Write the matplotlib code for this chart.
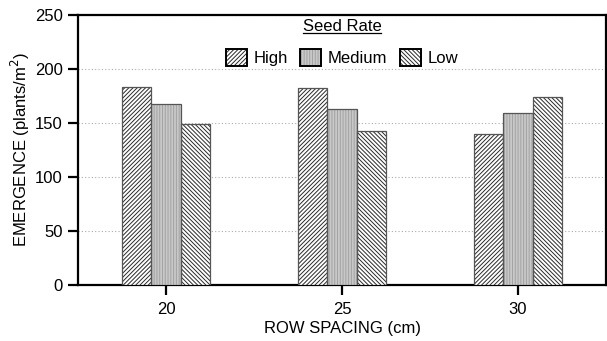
import matplotlib
matplotlib.use("Agg")
import matplotlib.pyplot as plt
from matplotlib.patches import Patch
from matplotlib.lines import Line2D
from matplotlib.legend_handler import HandlerTuple
import numpy as np

plt.rcParams['font.family'] = ['Liberation Sans', 'DejaVu Sans']
plt.rcParams['hatch.linewidth'] = 0.7

row_spacing = ["20", "25", "30"]
seed_rates = ["High", "Medium", "Low"]
high = [183, 182, 139.5]
medium = [168, 163, 159]
low = [149, 142.5, 174]

series = [high, medium, low]
hatches = ["////////", "||||||", "\\\\\\\\\\\\\\\\"]
faces = ["white", "#c8c8c8", "white"]
hatch_cols = ["#2a2a2a", "#a2a2a2", "#2a2a2a"]
FS = 12

fig = plt.figure(figsize=(6.07, 3.41), dpi=100)
ax = fig.add_axes([78 / 607, (341 - 285) / 341, (606 - 78) / 607, (285 - 15) / 341])

x = np.arange(len(row_spacing))
w = 0.5 / 3
for i, vals in enumerate(series):
    # hatched fill, then a crisp outline on top
    ax.bar(x + (i - 1) * w, vals, width=w, facecolor=faces[i], edgecolor=hatch_cols[i],
           hatch=hatches[i], linewidth=0, zorder=3)
    ax.bar(x + (i - 1) * w, vals, width=w, facecolor="none", edgecolor="#555555",
           linewidth=0.9, zorder=4)

ax.set_xlim(-0.5, 2.5)
ax.set_ylim(0, 250)
ax.set_yticks([0, 50, 100, 150, 200, 250])
ax.set_xticks(x)
ax.set_xticklabels(row_spacing)
ax.yaxis.grid(True, linestyle=(0, (1, 2)), color="#aaaaaa", linewidth=0.8, zorder=0)
for s in ax.spines.values():
    s.set_linewidth(1.6)
ax.tick_params(axis="both", direction="out", length=7, width=1.6, labelsize=FS, colors="black")
ax.tick_params(axis="y", pad=4)
ax.tick_params(axis="x", pad=5)
ax.set_xlabel("ROW SPACING (cm)", fontsize=FS, labelpad=3)
ax.set_ylabel("EMERGENCE (plants/m$^2$)", fontsize=FS, labelpad=2)

handles = [(Patch(facecolor=faces[i], edgecolor=hatch_cols[i], hatch=hatches[i], linewidth=0),
            Patch(facecolor="none", edgecolor="black", linewidth=1.4))
           for i in range(3)]
leg = ax.legend(handles, seed_rates, loc="center", bbox_to_anchor=(0.5, 0.844),
                ncol=3, frameon=False, fontsize=FS, handlelength=1.26, handleheight=1.2,
                columnspacing=0.75, handletextpad=0.4, borderpad=0, borderaxespad=0,
                handler_map={tuple: HandlerTuple(ndivide=1, pad=0)})

title = ax.text(0.5, 0.956, "Seed Rate", transform=ax.transAxes, ha="center", va="center",
                fontsize=FS)
fig.canvas.draw()
bb = title.get_window_extent().transformed(fig.transFigure.inverted())
fig.add_artist(Line2D([bb.x0, bb.x1], [bb.y0 + 0.004, bb.y0 + 0.004], color="black",
                      linewidth=0.9, transform=fig.transFigure))

fig.savefig("out.png", dpi=100)
